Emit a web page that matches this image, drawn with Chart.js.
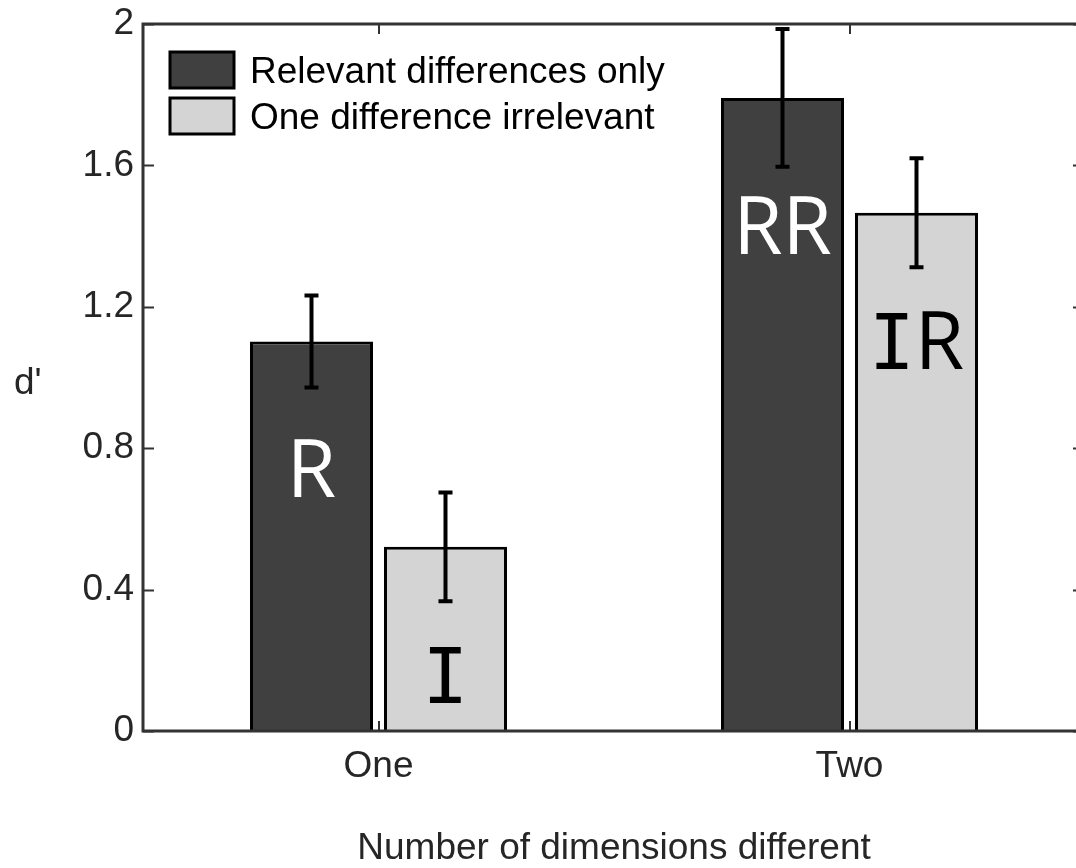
<!DOCTYPE html>
<html>
<head>
<meta charset="utf-8">
<script src="https://cdn.jsdelivr.net/npm/chart.js@4"></script>
<style>
  html, body { margin: 0; padding: 0; background: #fff; overflow: hidden; }
  canvas { display: block; }
</style>
</head>
<body>
<canvas id="chart" width="1100" height="868"></canvas>
<script>
'use strict';

// ── Data ─────────────────────────────────────────────────────────────────────
const categories = ['One', 'Two'];
const seriesNames = ['Relevant differences only', 'One difference irrelevant'];
const relevantValues = [1.102, 1.791];
const irrelevantValues = [0.521, 1.466];
const relevantErrors = [0.13, 0.195];
const irrelevantErrors = [0.154, 0.154];
const relevantMarks = ['R', 'RR'];
const irrelevantMarks = ['I', 'IR'];
const yTicks = [0, 0.4, 0.8, 1.2, 1.6, 2];

const AXIS = '#333333';
const TEXT = '#262626';
const FONT = '"Liberation Sans", Arial, sans-serif';

// ── Helpers ──────────────────────────────────────────────────────────────────
// the I in the bar marks has slab serifs, the R doesn't
function markFont(ch) {
  return ch === 'I' ? '76px "DejaVu Sans Mono"' : '80px "Open Sans"';
}

function drawMark(ctx, text, cx, baseline, color) {
  let total = 0;
  const widths = [];
  for (const ch of text) {
    ctx.font = markFont(ch);
    const w = ctx.measureText(ch).width;
    widths.push(w);
    total += w;
  }
  let x = cx - total / 2;
  ctx.fillStyle = color;
  ctx.textAlign = 'left';
  ctx.textBaseline = 'alphabetic';
  [...text].forEach((ch, i) => {
    ctx.font = markFont(ch);
    ctx.fillText(ch, x, baseline);
    x += widths[i];
  });
}

// ── Overlay plugin: error bars, marks, box, ticks, legend, y label ───────────
const overlay = {
  id: 'overlay',
  afterDatasetsDraw(chart) {
    const { ctx, chartArea: a, scales: { x, y } } = chart;
    ctx.save();

    // error bars
    chart.data.datasets.forEach((ds, i) => {
      const meta = chart.getDatasetMeta(i);
      meta.data.forEach((bar, j) => {
        const v = ds.data[j], e = ds.errors[j];
        const yt = y.getPixelForValue(v + e);
        const yb = y.getPixelForValue(v - e);
        ctx.strokeStyle = '#000';
        ctx.lineWidth = 4;
        ctx.beginPath();
        ctx.moveTo(bar.x, yt); ctx.lineTo(bar.x, yb);
        ctx.moveTo(bar.x - 7, yt); ctx.lineTo(bar.x + 7, yt);
        ctx.moveTo(bar.x - 7, yb); ctx.lineTo(bar.x + 7, yb);
        ctx.stroke();
      });
    });

    // letters inside the bars
    chart.data.datasets.forEach((ds, i) => {
      const meta = chart.getDatasetMeta(i);
      meta.data.forEach((bar, j) => {
        drawMark(ctx, ds.marks[j], bar.x, bar.y + 156, ds.markColor);
      });
    });

    // axes box
    ctx.strokeStyle = AXIS;
    ctx.lineWidth = 3;
    ctx.strokeRect(a.left, a.top, a.right - a.left, a.bottom - a.top);

    // inward ticks
    ctx.lineWidth = 2;
    ctx.beginPath();
    yTicks.forEach(v => {
      const py = Math.round(y.getPixelForValue(v)) + 0.5;
      ctx.moveTo(a.left, py); ctx.lineTo(a.left + 11, py);
      ctx.moveTo(a.right, py); ctx.lineTo(a.right - 12, py);
    });
    categories.forEach((c, i) => {
      const px = Math.round(x.getPixelForValue(i));
      ctx.moveTo(px, a.bottom); ctx.lineTo(px, a.bottom - 10);
      ctx.moveTo(px, a.top); ctx.lineTo(px, a.top + 10);
    });
    ctx.stroke();

    // legend
    chart.data.datasets.forEach((ds, i) => {
      const bx = 170, by = 52 + i * 46, bw = 64, bh = 36;
      ctx.fillStyle = ds.backgroundColor;
      ctx.fillRect(bx, by, bw, bh);
      ctx.strokeStyle = '#000';
      ctx.lineWidth = 3;
      ctx.strokeRect(bx, by, bw, bh);
      ctx.fillStyle = '#000';
      ctx.font = '37px ' + FONT;
      ctx.textAlign = 'left';
      ctx.textBaseline = 'alphabetic';
      ctx.fillText(ds.label, 250, by + bh / 2 + 13);
    });

    // y label, horizontal like the original
    ctx.fillStyle = TEXT;
    ctx.font = '37px ' + FONT;
    ctx.textAlign = 'left';
    ctx.fillText("d'", 14, 394);

    ctx.restore();
  }
};

// ── Chart ────────────────────────────────────────────────────────────────────
new Chart(document.getElementById('chart').getContext('2d'), {
  type: 'bar',
  data: {
    labels: categories,
    datasets: [
      {
        label: seriesNames[0],
        data: relevantValues,
        errors: relevantErrors,
        marks: relevantMarks,
        markColor: '#ffffff',
        backgroundColor: '#404040',
        borderColor: '#000000',
        borderWidth: 3,
        borderSkipped: 'bottom',
      },
      {
        label: seriesNames[1],
        data: irrelevantValues,
        errors: irrelevantErrors,
        marks: irrelevantMarks,
        markColor: '#000000',
        backgroundColor: '#d4d4d4',
        borderColor: '#000000',
        borderWidth: 3,
        borderSkipped: 'bottom',
      },
    ],
  },
  options: {
    responsive: false,
    devicePixelRatio: 1,
    animation: false,
    categoryPercentage: 0.569,
    barPercentage: 0.918,
    layout: { padding: { top: 24, right: 15, left: 0, bottom: 0 } },
    plugins: {
      legend: { display: false },
      tooltip: { enabled: false },
    },
    scales: {
      x: {
        grid: { display: false, drawTicks: false },
        border: { display: false },
        ticks: { color: TEXT, font: { family: FONT, size: 37 }, padding: 14 },
        title: {
          display: true,
          text: 'Number of dimensions different',
          color: TEXT,
          font: { family: FONT, size: 37, lineHeight: 1 },
          padding: { top: 0, bottom: 1 },
        },
        afterFit: s => { s.height = 137; },
      },
      y: {
        min: 0,
        max: 2,
        grid: { display: false, drawTicks: false },
        border: { display: false },
        afterBuildTicks: s => { s.ticks = yTicks.map(v => ({ value: v })); },
        ticks: {
          color: TEXT,
          font: { family: FONT, size: 37, lineHeight: 0.8 },
          padding: 9,
          callback: v => String(+v.toFixed(1)),
        },
        afterFit: s => { s.width = 143; },
      },
    },
  },
  plugins: [overlay],
});
</script>
</body>
</html>
